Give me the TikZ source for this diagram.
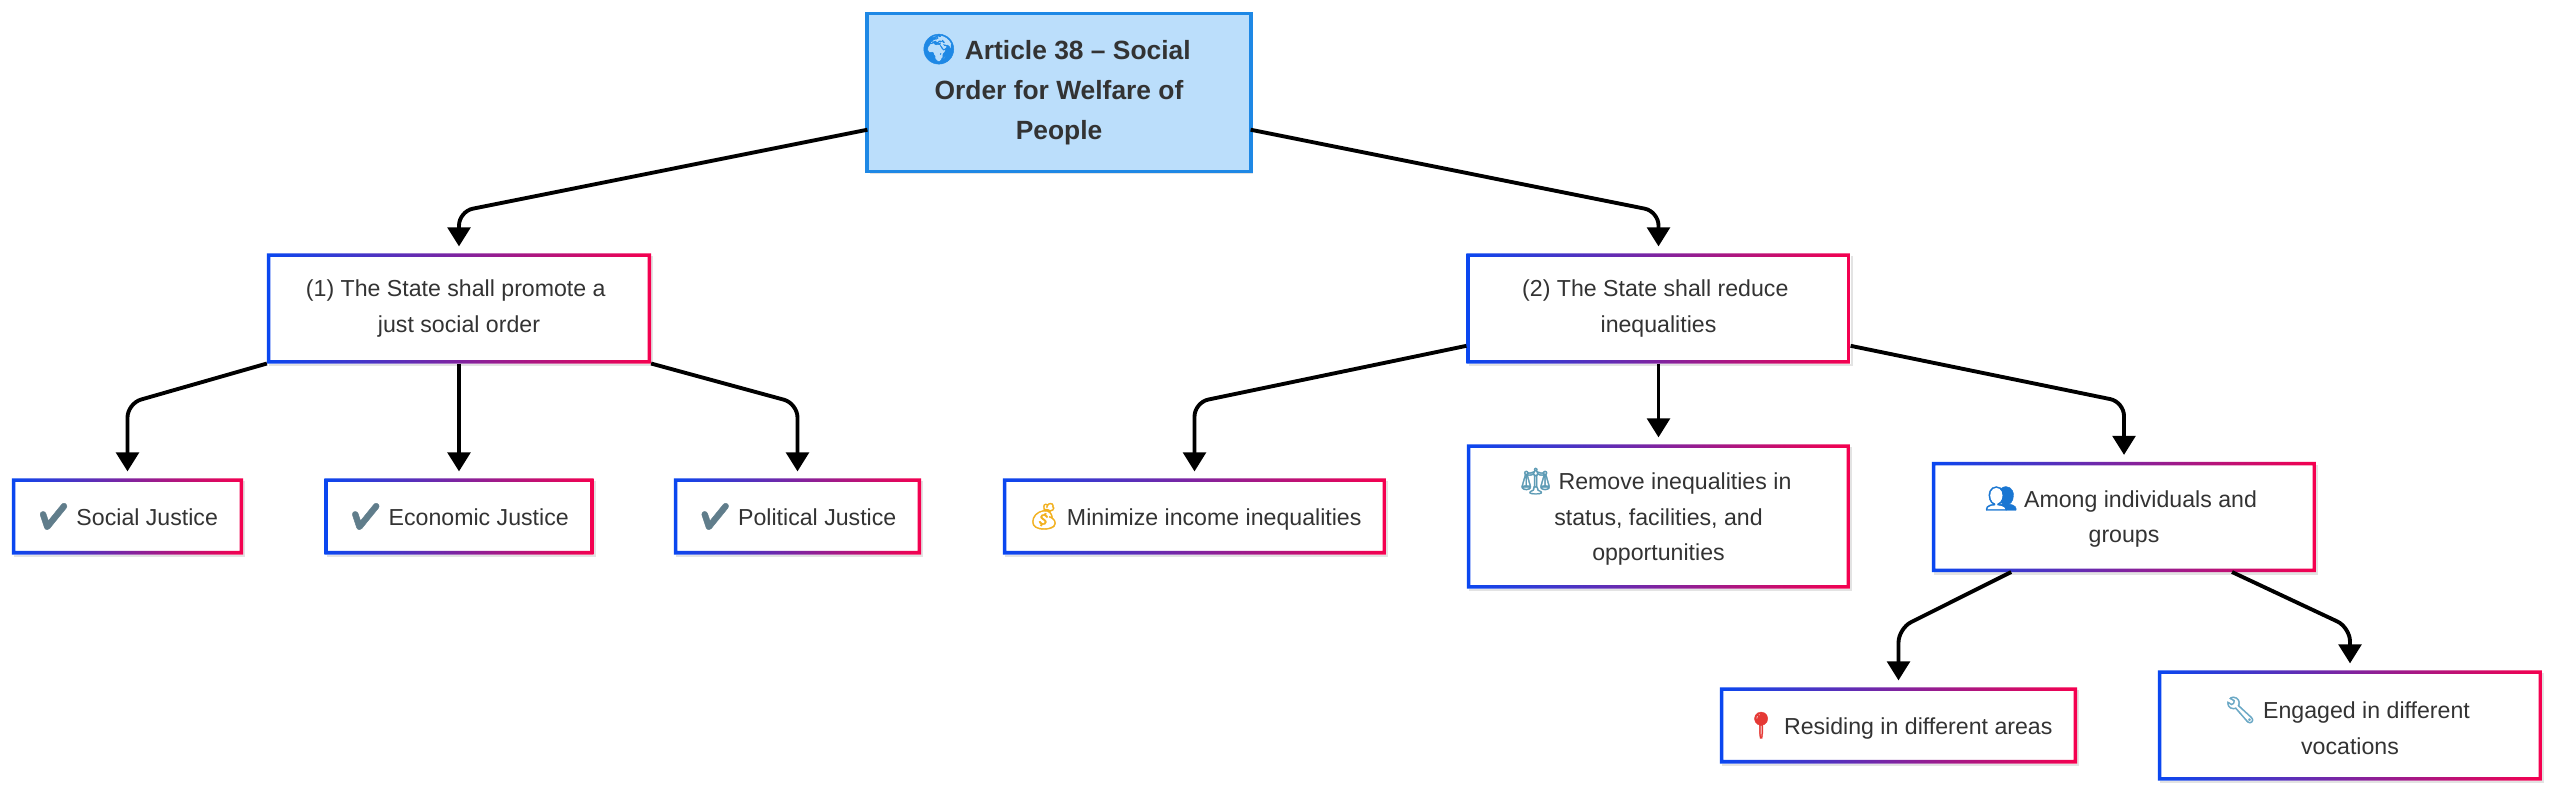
\documentclass[tikz,border=0pt]{standalone}
\usepackage{fontspec}
\setmainfont{Liberation Sans}
\newfontfamily\emojifont[FakeBold=1.5]{Noto Emoji}
\usetikzlibrary{arrows.meta,shadows}
\definecolor{edgeblue}{HTML}{0A47F0}
\definecolor{edgered}{HTML}{F5004F}
\definecolor{inktext}{HTML}{333333}
\definecolor{titlefill}{HTML}{BBDEFB}
\definecolor{titleline}{HTML}{1E88E5}
\newcommand{\emo}[2]{{\emojifont\fontsize{7.4}{10}\selectfont\textcolor[HTML]{#1}{#2}}}
\newcommand{\globe}{\smash{\emojifont\fontsize{8.4}{11.4}\selectfont\textcolor[HTML]{1E88E5}{🌍}}}
\newcommand{\wrapsp}{\hspace*{.278em}}
\tikzset{
    framed/.style={rectangle, outer sep=0pt, inner sep=0pt, align=center, fill=white, text=inktext,
        font=\fontsize{6.58}{10}\selectfont,
        drop shadow={shadow xshift=0.6pt, shadow yshift=-0.8pt, opacity=0.22},
        path picture={
            \shade[left color=edgeblue, right color=edgered, even odd rule]
                (path picture bounding box.south west) rectangle (path picture bounding box.north east)
                ([shift={(1pt,1pt)}]path picture bounding box.south west) rectangle
                ([shift={(-1pt,-1pt)}]path picture bounding box.north east);
        }},
    toptitle/.style={rectangle, outer sep=0pt, align=center, fill=titlefill, draw=titleline, line width=1.1pt,
        text=inktext, font=\fontsize{7.5}{11.4}\selectfont\bfseries,
        drop shadow={shadow xshift=0.6pt, shadow yshift=-0.8pt, opacity=0.22}},
    link/.style={-{Triangle[width=6.4pt,length=5.4pt]}, line width=1.1pt, rounded corners=4pt, shorten >=2pt}
}
\begin{document}
\begin{tikzpicture}[x=0.01cm,y=-0.01cm]
    \useasboundingbox (0,0) rectangle (2560,795);

    \node[toptitle, minimum width=3.83cm, minimum height=1.58cm] (root) at (1059,92.5)
        {\globe{} Article 38 – Social\wrapsp\\Order for Welfare of\wrapsp\\People};

    \node[framed, minimum width=3.84cm, minimum height=1.10cm] (just) at (459,308.5)
        {(1) The State shall promote a\wrapsp\\just social order};
    \node[framed, minimum width=3.84cm, minimum height=1.10cm] (reduce) at (1658.5,308.5)
        {(2) The State shall reduce\wrapsp\\inequalities};

    \node[framed, minimum width=2.31cm, minimum height=0.76cm] (social) at (127.5,516.5)
        {\emo{607D8B}{✔} Social Justice};
    \node[framed, minimum width=2.69cm, minimum height=0.76cm] (economic) at (459,516.5)
        {\emo{607D8B}{✔} Economic Justice};
    \node[framed, minimum width=2.47cm, minimum height=0.76cm] (political) at (797.5,516.5)
        {\emo{607D8B}{✔} Political Justice};
    \node[framed, minimum width=3.83cm, minimum height=0.76cm] (income) at (1194.5,516.5)
        {\emo{F2B01E}{💰} Minimize income inequalities};
    \node[framed, minimum width=3.83cm, minimum height=1.44cm] (status) at (1658.5,516.5)
        {\emo{5D9BB5}{⚖} Remove inequalities in\wrapsp\\status, facilities, and\wrapsp\\opportunities};
    \node[framed, minimum width=3.84cm, minimum height=1.10cm] (groups) at (2124,517)
        {\emo{1976D2}{👥} Among individuals and\wrapsp\\groups};
    \node[framed, minimum width=3.57cm, minimum height=0.76cm] (areas) at (1898.5,725.5)
        {\emo{E53935}{📍} Residing in different areas};
    \node[framed, minimum width=3.84cm, minimum height=1.10cm] (vocations) at (2350,725.5)
        {\emo{6AA8C5}{🔧} Engaged in different\wrapsp\\vocations};

    \draw[link] (root.191) -- ([yshift=0.42cm]just.north) -- (just.north);
    \draw[link] (root.349) -- ([yshift=0.42cm]reduce.north) -- (reduce.north);

    \draw[link] (just.south west) -- ([yshift=0.75cm]social.north) -- (social.north);
    \draw[link] (just.south) -- (economic.north);
    \draw[link] (just.south east) -- ([yshift=0.75cm]political.north) -- (political.north);

    \draw[link] (reduce.191) -- ([yshift=0.76cm]income.north) -- (income.north);
    \draw[link] (reduce.south) -- (status.north);
    \draw[link] (reduce.349) -- ([yshift=0.60cm]groups.north) -- (groups.north);

    \draw[link] (groups.206.6) -- ([yshift=0.59cm]areas.north) -- (areas.north);
    \draw[link] (groups.333.4) -- ([yshift=0.43cm]vocations.north) -- (vocations.north);
\end{tikzpicture}
\end{document}
